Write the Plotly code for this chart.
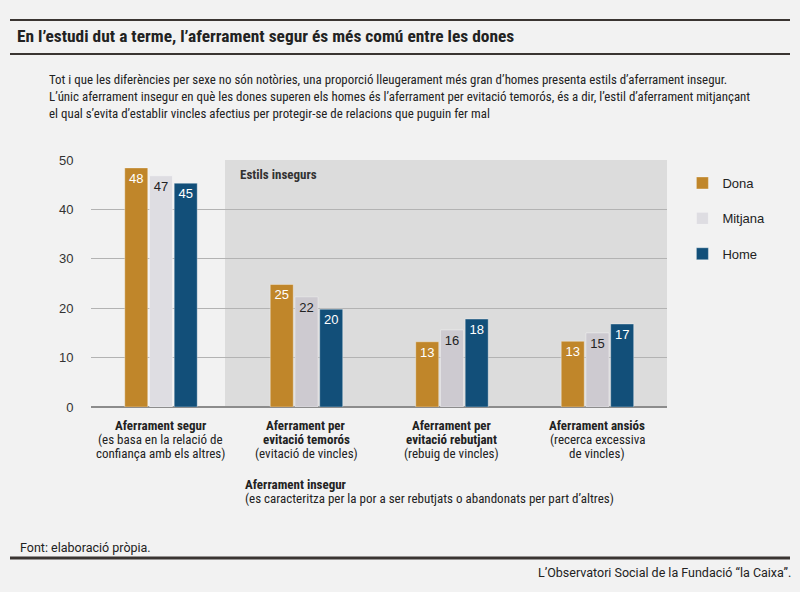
import plotly.graph_objects as go

# data
categories = ["segur", "temoros", "rebutjant", "ansios"]
category_lines = [
    ["<b>Aferrament segur</b>", "(es basa en la relació de", "confiança amb els altres)"],
    ["<b>Aferrament per</b>", "<b>evitació temorós</b>", "(evitació de vincles)"],
    ["<b>Aferrament per</b>", "<b>evitació rebutjant</b>", "(rebuig de vincles)"],
    ["<b>Aferrament ansiós</b>", "(recerca excessiva", "de vincles)"],
]
dona = [48.4, 24.8, 13.2, 13.3]
mitjana = [46.8, 22.3, 15.6, 15.0]
home = [45.3, 19.8, 17.8, 16.8]
y_ticks = [0, 10, 20, 30, 40, 50]

BG = "#f2f2f2"
DARK = "#3a3532"
NARROW = "Roboto Condensed, Liberation Sans Narrow, Arial Narrow, sans-serif"
ROBOTO = "Roboto, sans-serif"
REG = "Liberation Sans, Arial, sans-serif"

fig = go.Figure()

series = [
    ("Dona", dona, "#c0862a", "white"),
    ("Mitjana", mitjana, ["#dedde2", "#cdcad0", "#cdcad0", "#cdcad0"], "#222222"),
    ("Home", home, "#124f79", "white"),
]
for name, vals, col, tcol in series:
    fig.add_trace(go.Bar(
        name=name, x=categories, y=vals,
        marker=dict(color=col, line=dict(color="rgba(255,255,255,0.35)", width=1)),
        text=[f"{v:.0f}" for v in vals],
        textposition="inside", insidetextanchor="end", textangle=0,
        textfont=dict(family=REG, size=13, color=tcol),
        legendgroup=name,
        hoverinfo="skip",
    ))

# shaded "insecure styles" block
fig.add_shape(type="rect", xref="x", yref="y", x0=0.44, x1=3.5, y0=0, y1=50,
              fillcolor="#dcdcdc", line=dict(width=0), layer="below")

fig.add_annotation(xref="x", yref="y", x=0.53, y=47, text="<b>Estils insegurs</b>",
                   showarrow=False, xanchor="left", yanchor="middle",
                   font=dict(family=NARROW, size=13, color="#333333"))

# category labels under the groups, one line each
for cat, lines in zip(categories, category_lines):
    for i, line in enumerate(lines):
        fig.add_annotation(xref="x", yref="paper", x=cat, y=1 - (425 + 14 * i) / 592,
                           text=line, showarrow=False, xanchor="center", yanchor="middle",
                           font=dict(family=NARROW, size=13, color="#222222"))

# header / footer rules
for yy, w in [(20, 2), (54, 2), (558, 3)]:
    fig.add_shape(type="line", xref="paper", yref="paper",
                  x0=10 / 800, x1=790 / 800, y0=1 - yy / 592, y1=1 - yy / 592,
                  line=dict(color=DARK, width=w))

def txt(x, y, text, size=13, anchor="left", family=NARROW, color="#222222"):
    fig.add_annotation(xref="paper", yref="paper", x=x / 800, y=1 - y / 592, text=text,
                       showarrow=False, xanchor=anchor, yanchor="middle", align=anchor,
                       font=dict(family=family, size=size, color=color))

txt(15, 36, "<b>En l’estudi dut a terme, l’aferrament segur és més comú entre les dones</b>", size=17.4)
txt(47, 96,
    "Tot i que les diferències per sexe no són notòries, una proporció lleugerament més gran d’homes presenta estils d’aferrament insegur.<br>"
    "L’únic aferrament insegur en què les dones superen els homes és l’aferrament per evitació temorós, és a dir, l’estil d’aferrament mitjançant<br>"
    "el qual s’evita d’establir vincles afectius per protegir-se de relacions que puguin fer mal", size=12.9)
txt(243, 484, "<b>Aferrament insegur</b>", size=13)
txt(243, 498, "(es caracteritza per la por a ser rebutjats o abandonats per part d’altres)", size=13)
txt(18, 547, "Font: elaboració pròpia.", size=12.5, family=ROBOTO)
txt(793, 572, "L’Observatori Social de la Fundació “la Caixa”.", size=12.5, anchor="right", family=ROBOTO)

fig.update_layout(
    width=800, height=592,
    margin=dict(l=0, r=0, t=0, b=0),
    paper_bgcolor=BG, plot_bgcolor=BG,
    barmode="group", bargap=0.49, bargroupgap=0.07,
    showlegend=True,
    legend=dict(x=0.853, y=1 - 168 / 592, xanchor="left", yanchor="top",
                bgcolor="rgba(0,0,0,0)", tracegroupgap=15.5,
                font=dict(family=REG, size=13, color="#222222")),
    uniformtext=dict(minsize=13, mode="show"),
)
fig.update_xaxes(
    domain=[91 / 800, 667 / 800], range=[-0.481, 3.478],
    showticklabels=False, showgrid=False, showline=False, zeroline=False,
    automargin=False, fixedrange=True,
)
fig.update_yaxes(
    domain=[1 - 407 / 592, 1 - 160 / 592], range=[0, 50],
    tickvals=y_ticks,
    showgrid=True, gridcolor="#b3b3b3", gridwidth=1,
    zeroline=True, zerolinecolor="#8c8c8c", zerolinewidth=2,
    showline=False, ticks="outside", ticklen=14, tickcolor="rgba(0,0,0,0)",
    tickfont=dict(family=REG, size=13, color="#333333"),
    automargin=False, fixedrange=True,
)

fig.write_html("out.html", config={"displayModeBar": False},
               post_script="document.body.style.margin='0';document.body.style.background='#f2f2f2';")
